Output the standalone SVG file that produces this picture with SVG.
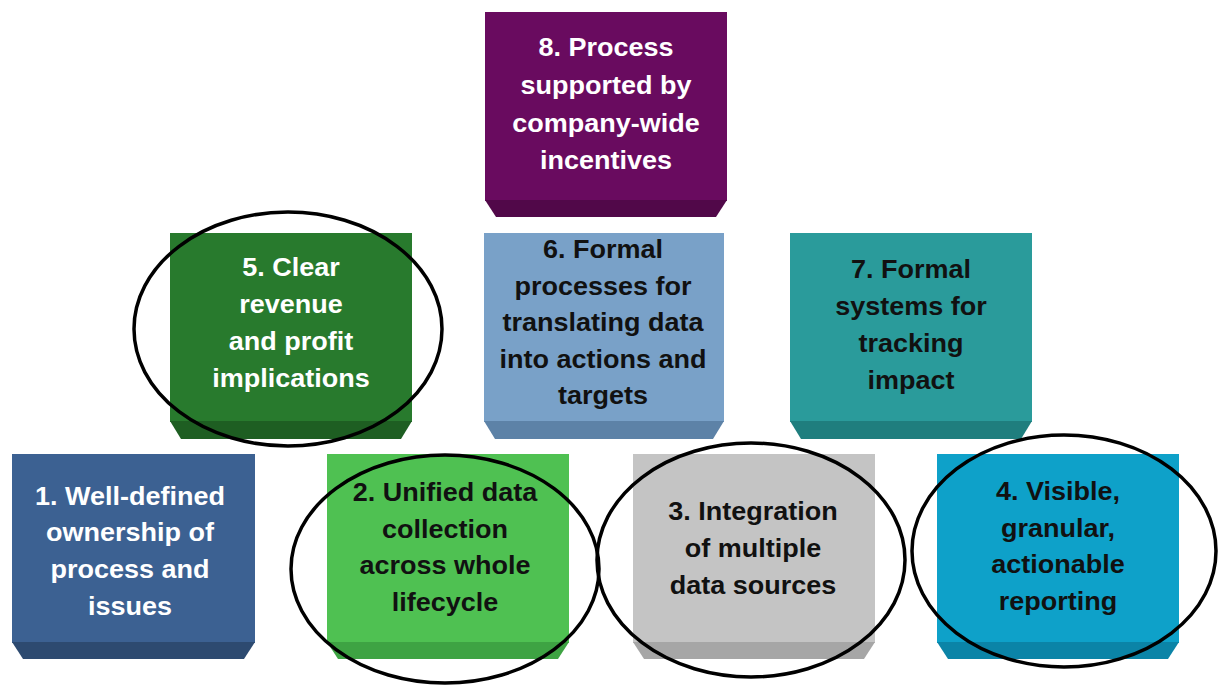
<svg xmlns="http://www.w3.org/2000/svg" width="1218" height="686" viewBox="0 0 1218 686">
<style>
  .t { font-family: "Liberation Sans", Arial, sans-serif; font-weight: bold; font-size: 25px; text-anchor: middle; }
  .w { fill: #ffffff; }
  .k { fill: #111111; }
  .ring { fill: none; stroke: #000000; stroke-width: 3.5; }
</style>
<rect width="1218" height="686" fill="#ffffff"/>

<g id="node8">
  <rect x="485" y="12" width="242" height="189" fill="#690b5f"/>
  <polygon points="485,200 727,200 716,217 496,217" fill="#510849"/>
  <g transform="translate(606,0) scale(1.08,1)">
    <text class="t w" x="0" y="56">8. Process</text>
    <text class="t w" x="0" y="94">supported by</text>
    <text class="t w" x="0" y="132">company-wide</text>
    <text class="t w" x="0" y="169">incentives</text>
  </g>
</g>

<g id="node5">
  <rect x="170" y="233" width="242" height="189" fill="#287a2d"/>
  <polygon points="170,421 412,421 401,439 181,439" fill="#1e5e22"/>
  <g transform="translate(291,0) scale(1.08,1)">
    <text class="t w" x="0" y="276">5. Clear</text>
    <text class="t w" x="0" y="313">revenue</text>
    <text class="t w" x="0" y="350">and profit</text>
    <text class="t w" x="0" y="387">implications</text>
  </g>
</g>

<g id="node6">
  <rect x="484" y="233" width="240" height="189" fill="#79a1c8"/>
  <polygon points="484,421 724,421 713,439 495,439" fill="#5d82a7"/>
  <g transform="translate(603,0) scale(1.08,1)">
    <text class="t k" x="0" y="258">6. Formal</text>
    <text class="t k" x="0" y="295">processes for</text>
    <text class="t k" x="0" y="331">translating data</text>
    <text class="t k" x="0" y="368">into actions and</text>
    <text class="t k" x="0" y="404">targets</text>
  </g>
</g>

<g id="node7">
  <rect x="790" y="233" width="242" height="189" fill="#2a9b9b"/>
  <polygon points="790,421 1032,421 1021,439 801,439" fill="#1f7e7e"/>
  <g transform="translate(911,0) scale(1.08,1)">
    <text class="t k" x="0" y="278">7. Formal</text>
    <text class="t k" x="0" y="315">systems for</text>
    <text class="t k" x="0" y="352">tracking</text>
    <text class="t k" x="0" y="389">impact</text>
  </g>
</g>

<g id="node1">
  <rect x="12" y="454" width="243" height="189" fill="#3c6192"/>
  <polygon points="12,642 255,642 244,659 23,659" fill="#2d4a70"/>
  <g transform="translate(130,0) scale(1.08,1)">
    <text class="t w" x="0" y="505">1. Well-defined</text>
    <text class="t w" x="0" y="541">ownership of</text>
    <text class="t w" x="0" y="578">process and</text>
    <text class="t w" x="0" y="615">issues</text>
  </g>
</g>

<g id="node2">
  <rect x="327" y="454" width="242" height="189" fill="#4fc152"/>
  <polygon points="327,642 569,642 558,659 338,659" fill="#3ea343"/>
  <g transform="translate(445,0) scale(1.08,1)">
    <text class="t k" x="0" y="501">2. Unified data</text>
    <text class="t k" x="0" y="538">collection</text>
    <text class="t k" x="0" y="574">across whole</text>
    <text class="t k" x="0" y="611">lifecycle</text>
  </g>
</g>

<g id="node3">
  <rect x="633" y="454" width="242" height="189" fill="#c4c4c4"/>
  <polygon points="633,642 875,642 864,659 644,659" fill="#a6a6a6"/>
  <g transform="translate(753,0) scale(1.08,1)">
    <text class="t k" x="0" y="520">3. Integration</text>
    <text class="t k" x="0" y="557">of multiple</text>
    <text class="t k" x="0" y="594">data sources</text>
  </g>
</g>

<g id="node4">
  <rect x="937" y="454" width="242" height="189" fill="#0ea1c9"/>
  <polygon points="937,642 1179,642 1168,659 948,659" fill="#0b84a7"/>
  <g transform="translate(1058,0) scale(1.08,1)">
    <text class="t k" x="0" y="500">4. Visible,</text>
    <text class="t k" x="0" y="537">granular,</text>
    <text class="t k" x="0" y="573">actionable</text>
    <text class="t k" x="0" y="610">reporting</text>
  </g>
</g>

<g id="highlights">
  <ellipse class="ring" cx="288" cy="329" rx="154" ry="117"/>
  <ellipse class="ring" cx="445" cy="569" rx="154" ry="114"/>
  <ellipse class="ring" cx="751" cy="560" rx="154" ry="117"/>
  <ellipse class="ring" cx="1064" cy="551" rx="152" ry="116"/>
</g>
</svg>
